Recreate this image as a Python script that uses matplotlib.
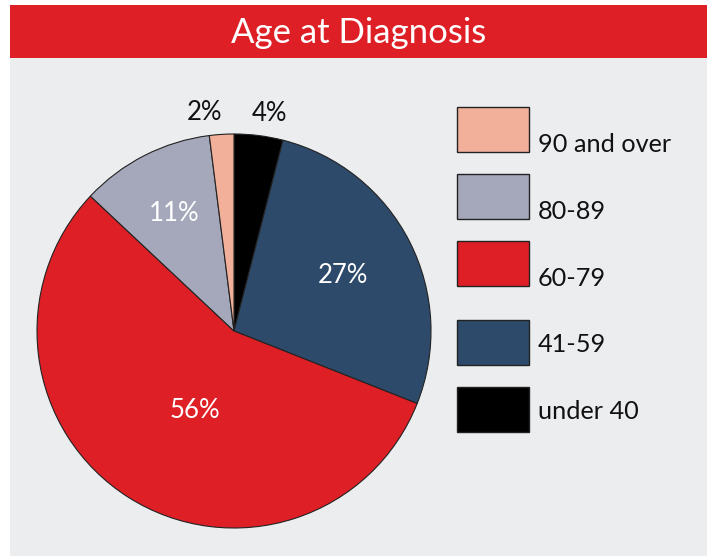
import numpy as np
import matplotlib.pyplot as plt
from matplotlib.patches import Rectangle

plt.rcParams['font.family'] = ['Lato', 'DejaVu Sans']

# data, in clockwise order starting from 12 o'clock
age_groups = ['under 40', '41-59', '60-79', '80-89', '90 and over']
shares = [4, 27, 56, 11, 2]
colors = ['#000000', '#2E4A6B', '#DF1F26', '#A5A8BA', '#F2B09B']
label_colors = ['#111111', 'white', 'white', 'white', '#111111']
label_radius = [1.12, 0.62, 0.45, 0.67, 1.12]
label_nudge = [-2, 0, 6, 0, 4]  # degrees

W, H = 712, 558
fig = plt.figure(figsize=(W / 100, H / 100), dpi=100)
fig.patch.set_facecolor('white')

# background axes in pixel coords
bg = fig.add_axes([0, 0, 1, 1])
bg.set_xlim(0, W)
bg.set_ylim(H, 0)
bg.axis('off')
bg.add_patch(Rectangle((10, 58), 697, 498, facecolor='#ECEDEF', edgecolor='none'))
bg.add_patch(Rectangle((10, 5), 697, 53, facecolor='#DF1F26', edgecolor='none'))
bg.text(359, 33, 'Age at Diagnosis', color='white', fontsize=25,
        ha='center', va='center')

# legend, top to bottom is reverse of pie order
box_tops = [107, 174, 241, 320, 387]
text_base = [152, 219, 286, 352, 419]
for i, (name, col) in enumerate(zip(age_groups[::-1], colors[::-1])):
    bg.add_patch(Rectangle((457, box_tops[i]), 72, 45, facecolor=col,
                           edgecolor='#222222', linewidth=1))
    bg.text(538, text_base[i], name, fontsize=18.2, color='#111111',
            ha='left', va='baseline')

# pie
cx, cy, r = 234, 331, 197
ax = fig.add_axes([(cx - r) / W, (H - cy - r) / H, 2 * r / W, 2 * r / H])
wedges, _ = ax.pie(shares, colors=colors, startangle=90, counterclock=False,
                   wedgeprops=dict(edgecolor='#222222', linewidth=0.8))
ax.set_xlim(-1, 1)
ax.set_ylim(-1, 1)
ax.set_aspect('equal')
ax.axis('off')

for w, s, lc, lr, nd in zip(wedges, shares, label_colors, label_radius, label_nudge):
    mid = np.deg2rad((w.theta1 + w.theta2) / 2 + nd)
    ax.text(lr * np.cos(mid), lr * np.sin(mid), f'{s}%', color=lc,
            fontsize=18.5, ha='center', va='center')

fig.savefig('out.png', dpi=100)
